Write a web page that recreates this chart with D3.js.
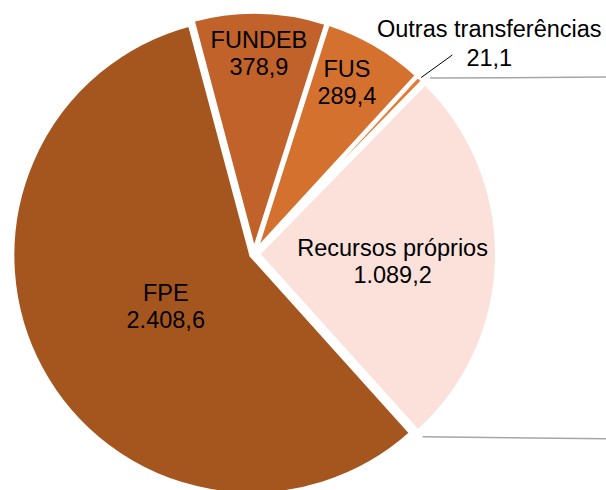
<!DOCTYPE html>
<html>
<head>
<meta charset="utf-8">
<script src="https://cdn.jsdelivr.net/npm/d3@7"></script>
<style>
  body { margin: 0; background: #fff; }
  text { font-family: "Liberation Sans", Arial, sans-serif; fill: #000; }
</style>
</head>
<body>
<div id="chart"></div>
<script>
var width = 606;
var height = 490;

// data
var categories = ["FPE", "FUNDEB", "FUS", "Outras transferências", "Recursos próprios"];
var values = [2408.6, 378.9, 289.4, 21.1, 1089.2];
var colors = ["#a5561f", "#c0622a", "#d5712e", "#e67a30", "#fbe1da"];

var cx = 254, cy = 254, radius = 239;
var explode = [3, 3, 3, 3, 4];
var labelPos = [0.42, 0.86, 0.85, null, 0.58];   // null -> outside label
var rad = Math.PI / 180;
var fontSize = "23.5px";

var fmt = d3.formatLocale({ decimal: ",", thousands: ".", grouping: [3], currency: ["", ""] }).format(",.1f");

var svg = d3.select("#chart").append("svg")
    .attr("width", width)
    .attr("height", height);

var pie = d3.pie()
    .sort(null)
    .startAngle(138 * rad)
    .endAngle(498 * rad);

var arcs = pie(values);

var arc = d3.arc()
    .innerRadius(0)
    .outerRadius(radius);

function dir(a) {
    return [Math.sin(a), -Math.cos(a)];
}

var g = svg.append("g")
    .attr("transform", "translate(" + cx + "," + cy + ")");

// series lines toward the (cropped) secondary plot
var other = arcs[4];
[other.startAngle, other.endAngle].forEach(function (a, i) {
    var d = dir(a);
    var r = radius + 7;
    var x0 = d[0] * r + explode[4];
    var y0 = d[1] * r;
    g.append("line")
        .attr("x1", x0)
        .attr("y1", y0)
        .attr("x2", width - cx)
        .attr("y2", y0 + (i == 0 ? -1 : 2))
        .attr("stroke", "#a6a6a6")
        .attr("stroke-width", 1.5);
});

var slices = g.selectAll("g.slice")
    .data(arcs)
    .enter().append("g")
    .attr("class", "slice")
    .attr("transform", function (d, i) {
        var m = dir((d.startAngle + d.endAngle) / 2);
        return "translate(" + m[0] * explode[i] + "," + m[1] * explode[i] + ")";
    });

slices.append("path")
    .attr("d", arc)
    .attr("fill", function (d, i) { return colors[i]; })
    .attr("stroke", "#fff")
    .attr("stroke-width", 4)
    .attr("stroke-linejoin", "miter");

// labels
arcs.forEach(function (d, i) {
    var mid = (d.startAngle + d.endAngle) / 2;
    var m = dir(mid);
    var lx, ly;
    if (labelPos[i] != null) {
        lx = m[0] * radius * labelPos[i];
        ly = m[1] * radius * labelPos[i];
        if (i == 2) lx -= 9;
        g.append("text")
            .attr("x", lx).attr("y", ly - 1)
            .attr("text-anchor", "middle")
            .style("font-size", fontSize)
            .text(categories[i]);
        g.append("text")
            .attr("x", lx).attr("y", ly + 26)
            .attr("text-anchor", "middle")
            .style("font-size", fontSize)
            .text(fmt(values[i]));
    } else {
        var r0 = radius + 1, r1 = radius * 1.17;
        lx = m[0] * r1;
        ly = m[1] * r1;
        g.append("line")
            .attr("x1", m[0] * r0 + m[0] * explode[i])
            .attr("y1", m[1] * r0 + m[1] * explode[i])
            .attr("x2", lx + 6)
            .attr("y2", ly + 4)
            .attr("stroke", "#000")
            .attr("stroke-width", 1);
        g.append("text")
            .attr("x", lx + 43).attr("y", ly - 14)
            .attr("text-anchor", "middle")
            .style("font-size", fontSize)
            .text(categories[i]);
        g.append("text")
            .attr("x", lx + 43).attr("y", ly + 15)
            .attr("text-anchor", "middle")
            .style("font-size", fontSize)
            .text(fmt(values[i]));
    }
});
</script>
</body>
</html>
